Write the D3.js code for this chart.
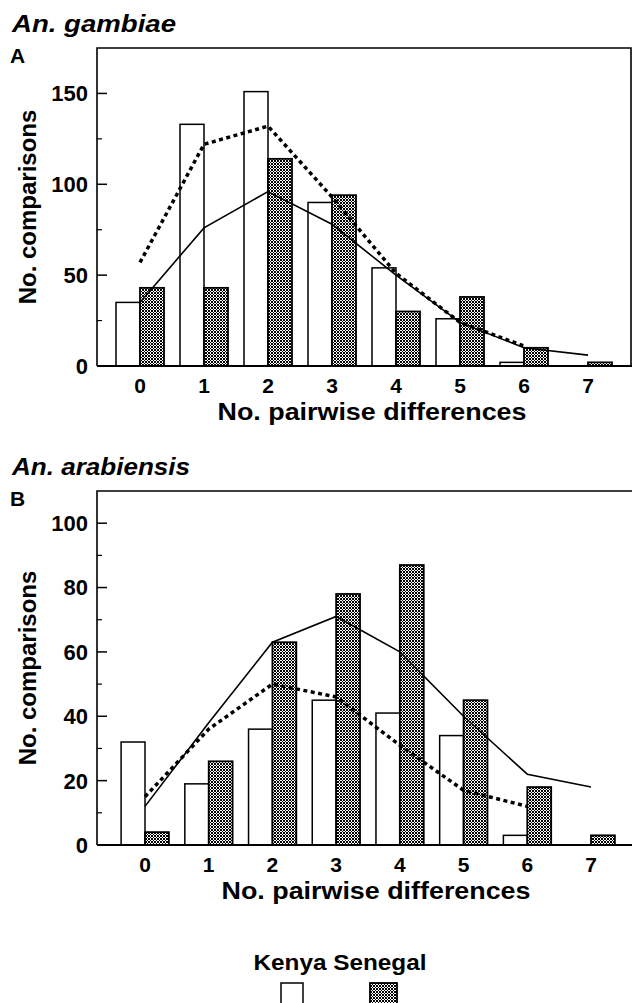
<!DOCTYPE html>
<html lang="en">
<head>
<meta charset="UTF-8">
<title>Pairwise differences</title>
<script src="https://d3js.org/d3.v7.min.js"></script>
<style>
    html, body { margin: 0; padding: 0; background: #fff; }
    svg { display: block; }
    text { font-family: Arial, "Liberation Sans", sans-serif; font-weight: bold; fill: #000; }
</style>
</head>
<body>
<div id="chart"></div>
<script>
    // data
    const categories = [0, 1, 2, 3, 4, 5, 6, 7];

    const gambiaeKenya = [35, 133, 151, 90, 54, 26, 2, 0];
    const gambiaeSenegal = [43, 43, 114, 94, 30, 38, 10, 2];
    const gambiaeSolid = [35, 76, 96, 78, 50, 24, 10, 6];
    const gambiaeDashed = [57, 122, 132, 93, 51, 24, 11];

    const arabiensisKenya = [32, 19, 36, 45, 41, 34, 3, 0];
    const arabiensisSenegal = [4, 26, 63, 78, 87, 45, 18, 3];
    const arabiensisSolid = [12, 38, 63, 71, 60, 40, 22, 18];
    const arabiensisDashed = [15, 36, 50, 46, 31, 17, 12];

    const gambiaeTicks = [0, 50, 100, 150];
    const gambiaeMinor = [25, 75, 125];
    const arabiensisTicks = [0, 20, 40, 60, 80, 100];
    const arabiensisMinor = [10, 30, 50, 70, 90];

    const width = 632;
    const height = 1003;

    const svg = d3.select('#chart')
        .append('svg')
        .attr('width', width)
        .attr('height', height);

    // cross hatch fill for Senegal
    const pat = svg.append('defs').append('pattern')
        .attr('id', 'hatch')
        .attr('patternUnits', 'userSpaceOnUse')
        .attr('width', 3)
        .attr('height', 3);
    pat.append('rect').attr('width', 3).attr('height', 3).attr('fill', '#fff');
    [[0, 0], [1, 1], [2, 2], [1, 2], [2, 1]].forEach(p => {
        pat.append('rect').attr('x', p[0]).attr('y', p[1])
            .attr('width', 1).attr('height', 1).attr('fill', '#000');
    });

    function panel(opt) {
        const g = svg.append('g');
        const x = d3.scaleLinear().domain([0, 7]).range(opt.xRange);
        const y = d3.scaleLinear().domain([0, opt.yMax]).range([opt.bottom, opt.top]);
        const bw = x(0.375) - x(0);

        // bars
        g.selectAll('rect.kenya')
            .data(categories)
            .enter()
            .filter(d => opt.kenya[d] > 0)
            .append('rect')
            .attr('x', d => x(d) - bw)
            .attr('y', d => y(opt.kenya[d]))
            .attr('width', bw)
            .attr('height', d => y(0) - y(opt.kenya[d]))
            .attr('fill', '#fff')
            .attr('stroke', '#000')
            .attr('stroke-width', 1.5);

        g.selectAll('rect.senegal')
            .data(categories)
            .enter()
            .append('rect')
            .attr('x', d => x(d))
            .attr('y', d => y(opt.senegal[d]))
            .attr('width', bw)
            .attr('height', d => y(0) - y(opt.senegal[d]))
            .attr('fill', 'url(#hatch)')
            .attr('stroke', '#000')
            .attr('stroke-width', 1.8);

        // fitted curves
        const line = d3.line().x((d, i) => x(i)).y(d => y(d));
        g.append('path')
            .attr('d', line(opt.solid))
            .attr('fill', 'none')
            .attr('stroke', '#000')
            .attr('stroke-width', 1.6);
        g.append('path')
            .attr('d', line(opt.dashed))
            .attr('fill', 'none')
            .attr('stroke', '#000')
            .attr('stroke-width', 3.5)
            .attr('stroke-dasharray', '4,3.5');

        // frame
        g.append('path')
            .attr('d', `M${opt.left},${opt.bottom}V${opt.top}H${opt.right}V${opt.bottom}`)
            .attr('fill', 'none')
            .attr('stroke', '#000')
            .attr('stroke-width', 1.6);
        g.append('line')
            .attr('x1', opt.left).attr('x2', width)
            .attr('y1', opt.bottom).attr('y2', opt.bottom)
            .attr('stroke', '#000')
            .attr('stroke-width', 2);

        // y ticks, pointing inward
        g.selectAll('line.major')
            .data(opt.ticks)
            .enter().append('line')
            .attr('x1', opt.left).attr('x2', opt.left + 10)
            .attr('y1', d => y(d)).attr('y2', d => y(d))
            .attr('stroke', '#000').attr('stroke-width', 1.5);
        g.selectAll('line.minor')
            .data(opt.minor)
            .enter().append('line')
            .attr('x1', opt.left).attr('x2', opt.left + 5)
            .attr('y1', d => y(d)).attr('y2', d => y(d))
            .attr('stroke', '#000').attr('stroke-width', 1.2);
        g.selectAll('text.ytick')
            .data(opt.ticks)
            .enter().append('text')
            .attr('x', opt.left - 9)
            .attr('y', d => y(d))
            .attr('dy', '0.36em')
            .attr('text-anchor', 'end')
            .attr('font-size', 22)
            .text(d => d);

        // x tick labels
        g.selectAll('text.xtick')
            .data(categories)
            .enter().append('text')
            .attr('x', d => x(d))
            .attr('y', opt.bottom + 27)
            .attr('text-anchor', 'middle')
            .attr('font-size', 21)
            .text(d => d);

        // axis titles
        g.append('text')
            .attr('x', opt.xTitleX)
            .attr('y', opt.bottom + 54)
            .attr('text-anchor', 'middle')
            .attr('font-size', 23)
            .attr('textLength', 309)
            .attr('lengthAdjust', 'spacingAndGlyphs')
            .text('No. pairwise differences');
        g.append('text')
            .attr('transform', `translate(36,${(opt.top + opt.bottom) / 2}) rotate(-90)`)
            .attr('text-anchor', 'middle')
            .attr('font-size', 24)
            .text('No. comparisons');

        // panel headings
        g.append('text')
            .attr('x', 12)
            .attr('y', opt.top - 16)
            .attr('font-size', 24)
            .attr('font-style', 'italic')
            .attr('textLength', opt.titleLen)
            .attr('lengthAdjust', 'spacingAndGlyphs')
            .text(opt.title);
        g.append('text')
            .attr('x', 10)
            .attr('y', opt.top + 15)
            .attr('font-size', 21)
            .text(opt.letter);
    }

    panel({
        title: 'An. gambiae', titleLen: 164, letter: 'A',
        left: 97, right: 631, top: 48, bottom: 366,
        xRange: [140, 588], yMax: 175, xTitleX: 372,
        kenya: gambiaeKenya, senegal: gambiaeSenegal,
        solid: gambiaeSolid, dashed: gambiaeDashed,
        ticks: gambiaeTicks, minor: gambiaeMinor
    });

    panel({
        title: 'An. arabiensis', titleLen: 178, letter: 'B',
        left: 97, right: 633, top: 491, bottom: 845,
        xRange: [145, 591], yMax: 110, xTitleX: 376,
        kenya: arabiensisKenya, senegal: arabiensisSenegal,
        solid: arabiensisSolid, dashed: arabiensisDashed,
        ticks: arabiensisTicks, minor: arabiensisMinor
    });

    // legend
    const legend = svg.append('g');
    legend.append('text')
        .attr('x', 340)
        .attr('y', 970)
        .attr('text-anchor', 'middle')
        .attr('font-size', 22)
        .attr('textLength', 173)
        .attr('lengthAdjust', 'spacingAndGlyphs')
        .text('Kenya Senegal');
    legend.append('rect')
        .attr('x', 281).attr('y', 983).attr('width', 22).attr('height', 30)
        .attr('fill', '#fff').attr('stroke', '#000').attr('stroke-width', 1.5);
    legend.append('rect')
        .attr('x', 370).attr('y', 983).attr('width', 27).attr('height', 30)
        .attr('fill', 'url(#hatch)').attr('stroke', '#000').attr('stroke-width', 1.8);
</script>
</body>
</html>
